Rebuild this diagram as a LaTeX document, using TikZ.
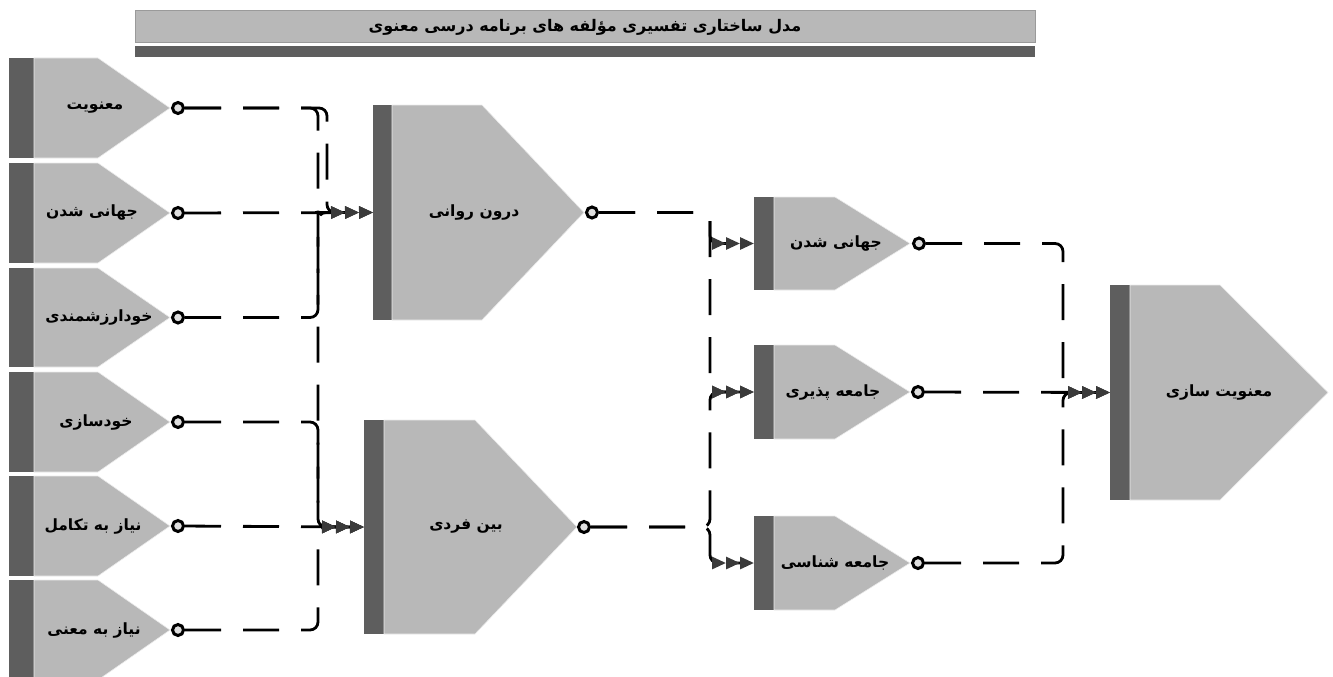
\documentclass[tikz,border=0pt]{standalone}
\usepackage{fontspec}
\newfontfamily\ar[Script=Arabic]{DejaVu Sans}
\TeXXeTstate=1
\usetikzlibrary{arrows.meta,calc}
\definecolor{barc}{HTML}{5E5E5E}
\definecolor{lightc}{HTML}{B8B8B8}
\definecolor{edgec}{HTML}{9A9A9A}
\definecolor{tipc}{HTML}{3A3A3A}
\pgfdeclarelayer{bg}
\pgfsetlayers{bg,main}
% #1 name, #2 bar left, #3 bar right, #4 slant start, #5 tip x, #6 top, #7 bottom, #8 label, #9 label x
\newcommand\blk[9]{%
  \fill[barc] (#2,#6) rectangle (#3,#7);
  \draw[lightshape] (#3,#6) -- (#4,#6) -- (#5,{(#6+#7)/2}) -- (#4,#7) -- (#3,#7) -- cycle;
  \node[lbl] (#1) at (#9,{(#6+#7)/2}) {\ar #8};
  \coordinate (#1-in) at (#2,{(#6+#7)/2});
}
\begin{document}
\begin{tikzpicture}[x=1pt,y=-1pt,
  lightshape/.style={fill=lightc,draw=white!85!gray,line width=0.6pt},
  lbl/.style={font=\fontsize{15.5}{17}\selectfont\bfseries,text=black,inner sep=0pt},
  ttl/.style={font=\fontsize{16}{18}\selectfont\bfseries,text=black,inner sep=0pt},
  port/.style={circle,draw=black,fill=gray!25,line width=3pt,minimum size=11pt,inner sep=0pt},
  conn/.style={line width=2.8pt,draw=black,dash pattern=on 36pt off 22pt,rounded corners=8pt,
    -{Triangle[length=14pt,width=12pt,fill=tipc,color=tipc]Triangle[length=14pt,width=12pt,fill=tipc,color=tipc]Triangle[length=14pt,width=12pt,fill=tipc,color=tipc]}}]
\useasboundingbox (0,0) rectangle (1333,677);
\clip (0,0) rectangle (1333,677);

% title
\fill[lightc,draw=edgec,line width=0.8pt] (135,10) rectangle (1035,42);
\fill[barc] (135,46) rectangle (1035,57);
\node[ttl] (title) at (585,27) {\ar\beginR مدل ساختاری تفسیری مؤلفه های برنامه درسی معنوی\endR};

% left column
\blk{n1}{9}{34}{98}{170}{58}{158}{\beginR معنویت\endR}{95}
\blk{n2}{9}{34}{98}{170}{163}{263}{\beginR جهانی شدن\endR}{92}
\blk{n3}{9}{34}{98}{170}{268}{367}{\beginR خودارزشمندی\endR}{99}
\blk{n4}{9}{34}{98}{170}{372}{472}{\beginR خودسازی\endR}{96}
\blk{n5}{9}{34}{98}{170}{476}{576}{\beginR نیاز به تکامل\endR}{93}
\blk{n6}{9}{34}{98}{170}{580}{680}{\beginR نیاز به معنی\endR}{94}

% middle column
\blk{derun}{373}{392}{482}{584}{105}{320}{\beginR درون روانی\endR}{474}
\blk{beyn}{364}{384}{475}{577}{420}{634}{\beginR بین فردی\endR}{466}

% right-middle column
\blk{jahani}{754}{774}{835}{910}{197}{290}{\beginR جهانی شدن\endR}{836}
\blk{pazir}{754}{774}{835}{910}{345}{439}{\beginR جامعه پذیری\endR}{833}
\blk{shenasi}{754}{774}{835}{910}{516}{610}{\beginR جامعه شناسی\endR}{835}

% final
\blk{final}{1110}{1130}{1220}{1328}{285}{500}{\beginR معنویت سازی\endR}{1219}

% output ports
\node[port] (n1-out) at (178,108) {};
\node[port] (n2-out) at (178,213) {};
\node[port] (n3-out) at (178,317.5) {};
\node[port] (n4-out) at (178,422) {};
\node[port] (n5-out) at (178,526) {};
\node[port] (n6-out) at (178,630) {};
\node[port] (derun-out) at (592,212.5) {};
\node[port] (beyn-out) at (584,527) {};
\node[port] (jahani-out) at (919,243.5) {};
\node[port] (pazir-out) at (918,392) {};
\node[port] (shenasi-out) at (918,563) {};

\coordinate (busA) at (318,0);
\coordinate (busB) at (327,0);
\coordinate (busC) at (710,0);
\coordinate (busD) at (1063,0);

\begin{pgfonlayer}{bg}
\draw[conn] (n1-out) -| (busB |- derun-in) -- (derun-in);
\draw[conn] (n1-out) -| (busA |- beyn-in) -- (beyn-in);
\draw[conn] (n2-out) -- (derun-in);
\draw[conn] (n3-out) -| (busA |- derun-in) -- (derun-in);
\draw[conn] (n4-out) -| (busA |- beyn-in) -- (beyn-in);
\draw[conn] (n5-out) -- (beyn-in);
\draw[conn] (n6-out) -| (busA |- beyn-in) -- (beyn-in);

\draw[conn] (derun-out) -| (busC |- jahani-in) -- (jahani-in);
\draw[conn] (derun-out) -| (busC |- pazir-in) -- (pazir-in);
\draw[conn] (beyn-out) -| (busC |- pazir-in) -- (pazir-in);
\draw[conn] (beyn-out) -| (busC |- shenasi-in) -- (shenasi-in);

\draw[conn] (jahani-out) -| (busD |- final-in) -- (final-in);
\draw[conn] (pazir-out) -- (final-in);
\draw[conn] (shenasi-out) -| (busD |- final-in) -- (final-in);
\end{pgfonlayer}
\end{tikzpicture}
\end{document}
